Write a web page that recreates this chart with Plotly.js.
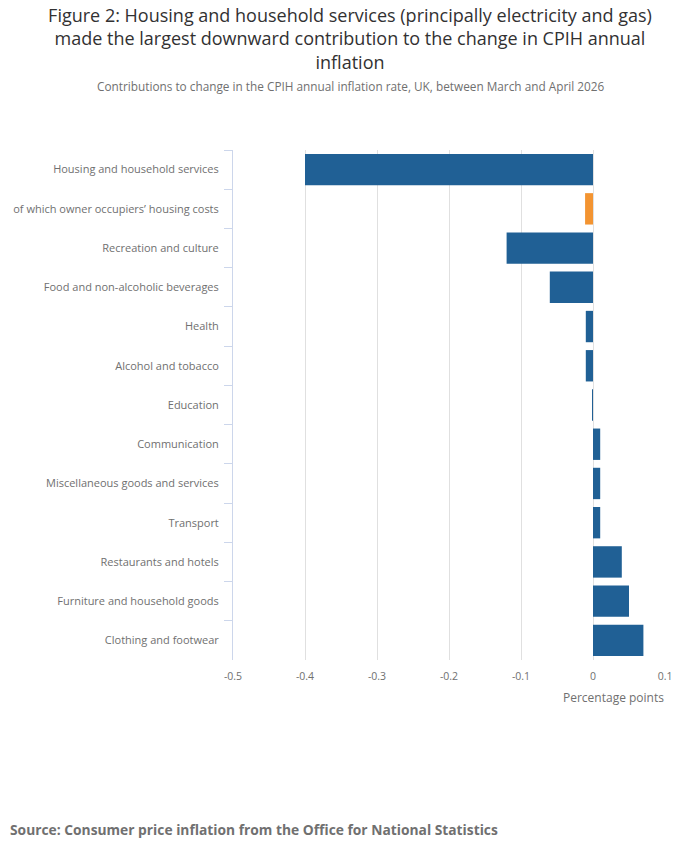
<!DOCTYPE html>
<html>
<head>
<meta charset="utf-8">
<script src="https://cdn.plot.ly/plotly-3.0.1.min.js"></script>
<style>
  html, body { margin: 0; padding: 0; background: #fff; }
  #plot { width: 700px; height: 857px; }
</style>
</head>
<body>
<div id="plot"></div>
<script>
// Categories, top to bottom
var categories = [
  "Housing and household services",
  "of which owner occupiers\u2019 housing costs",
  "Recreation and culture",
  "Food and non-alcoholic beverages",
  "Health",
  "Alcohol and tobacco",
  "Education",
  "Communication",
  "Miscellaneous goods and services",
  "Transport",
  "Restaurants and hotels",
  "Furniture and household goods",
  "Clothing and footwear"
];

// Contributions in percentage points
var contributions = [-0.40, -0.011, -0.12, -0.06, -0.01, -0.01, -0.001, 0.01, 0.01, 0.01, 0.04, 0.05, 0.07];

// The "of which" row is highlighted in orange
var barColours = categories.map(function (c) {
  return c.indexOf("of which") === 0 ? "#F39431" : "#206095";
});

var xTicks = [-0.5, -0.4, -0.3, -0.2, -0.1, 0, 0.1];
var xTickText = ["-0.5", "-0.4", "-0.3", "-0.2", "-0.1", "0", "0.1"];

var trace = {
  type: "bar",
  orientation: "h",
  x: contributions,
  y: categories,
  marker: { color: barColours },
  hoverinfo: "x+y"
};

var greyText = "#707070";

// plot area in pixels
var W = 700, H = 857;
var plotL = 233, plotR = 665, plotT = 150, plotB = 660;
function px2paperX(px) { return (px - plotL) / (plotR - plotL); }
function px2paperY(py) { return (plotB - py) / (plotB - plotT); }

var layout = {
  width: W,
  height: H,
  margin: { l: plotL, r: W - plotR, t: plotT, b: H - plotB },
  paper_bgcolor: "#fff",
  plot_bgcolor: "#fff",
  font: { family: "Open Sans, sans-serif", color: greyText, size: 11 },
  showlegend: false,
  bargap: 0.2,
  title: {
    text: "Figure 2: Housing and household services (principally electricity and gas)<br>made the largest downward contribution to the change in CPIH annual<br>inflation",
    font: { family: "Open Sans, sans-serif", size: 18, color: "#323132" },
    x: 0.5,
    xanchor: "center",
    y: 0.9745,
    yanchor: "top",
    yref: "container"
  },
  xaxis: {
    range: [-0.5, 0.1],
    tickvals: xTicks,
    ticktext: xTickText,
    showgrid: true,
    gridcolor: "#e0e0e0",
    gridwidth: 1,
    zeroline: false,
    showline: false,
    ticks: "",
    ticklabelstandoff: 8,
    tickfont: { size: 10.5, color: greyText }
  },
  yaxis: {
    type: "category",
    autorange: "reversed",
    showline: true,
    linecolor: "#ccd6eb",
    linewidth: 1,
    ticks: "outside",
    tickson: "boundaries",
    ticklen: 8,
    tickcolor: "#ccd6eb",
    ticklabelstandoff: 11,
    showgrid: false,
    zeroline: false,
    tickfont: { size: 11, color: greyText }
  },
  annotations: [
    {
      text: "Contributions to change in the CPIH annual inflation rate, UK, between March and April 2026",
      xref: "paper", yref: "paper",
      x: px2paperX(350), xanchor: "center",
      y: px2paperY(86), yanchor: "middle",
      showarrow: false,
      font: { size: 11.8, color: greyText }
    },
    {
      text: "Percentage points",
      xref: "paper", yref: "paper",
      x: px2paperX(666), xanchor: "right",
      y: px2paperY(697), yanchor: "middle",
      showarrow: false,
      font: { size: 12, color: greyText }
    },
    {
      text: "<b>Source: Consumer price inflation from the Office for National Statistics</b>",
      xref: "paper", yref: "paper",
      x: px2paperX(8), xanchor: "left",
      y: px2paperY(829), yanchor: "middle",
      showarrow: false,
      font: { size: 13.8, color: greyText }
    }
  ]
};

Plotly.newPlot("plot", [trace], layout, { displayModeBar: false });
</script>
</body>
</html>
